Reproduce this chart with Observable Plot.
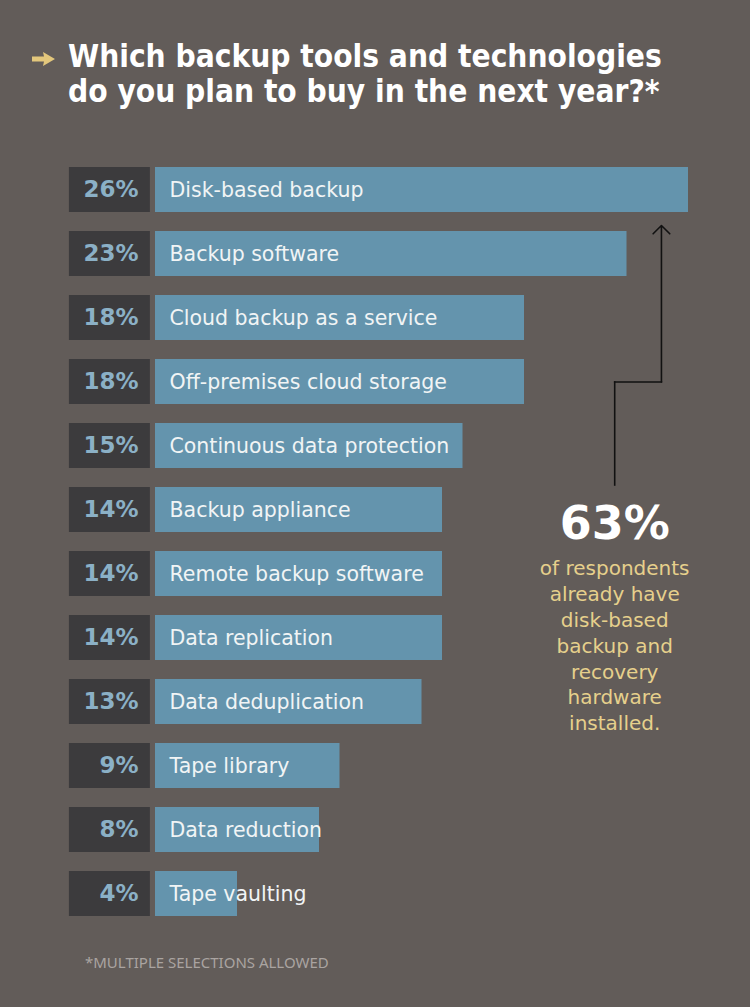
<!DOCTYPE html>
<html><head><meta charset="utf-8">
<script src="https://cdn.jsdelivr.net/npm/d3@7"></script>
<script src="https://cdn.jsdelivr.net/npm/@observablehq/plot@0.6"></script>
<style>
html,body{margin:0;padding:0;background:#625c59;}
body{width:750px;height:1007px;overflow:hidden;}
#title{position:relative;height:140px;box-sizing:border-box;padding:39px 0 0 68px;margin:0;}
#title .t{display:block;font-family:"DejaVu Sans Condensed","DejaVu Sans",sans-serif;font-weight:bold;font-size:32px;line-height:35px;color:#fff;transform:scaleX(0.98);transform-origin:0 0;white-space:nowrap;}
#title svg.arrow{position:absolute;left:32px;top:52px;}
#chart svg{display:block;}
#foot{padding:22px 0 0 85px;font-family:"Noto Sans",sans-serif;font-size:15px;color:#aaa4a1;line-height:20px;margin:0;}
</style>
</head><body>
<div id="title"><svg class="arrow" width="24" height="14" viewBox="0 0 24 14"><path d="M0 4.5 L12 4.5 L11 0 L23 7 L11 14 L12 9.5 L0 9.5 Z" fill="#e3c77c"/></svg><span class="t">Which backup tools and technologies</span><span class="t">do you plan to buy in the next year?*</span></div>
<div id="chart"></div>
<div id="foot">*MULTIPLE SELECTIONS ALLOWED</div>
<script>
const categories = [
  "Disk-based backup",
  "Backup software",
  "Cloud backup as a service",
  "Off-premises cloud storage",
  "Continuous data protection",
  "Backup appliance",
  "Remote backup software",
  "Data replication",
  "Data deduplication",
  "Tape library",
  "Data reduction",
  "Tape vaulting"
];
const values = [26, 23, 18, 18, 15, 14, 14, 14, 13, 9, 8, 4];
const annotationValue = "63%";
const annotationText = "of respondents\nalready have\ndisk-based\nbackup and\nrecovery\nhardware\ninstalled.";

const data = categories.map((c, i) => ({category: c, value: values[i], label: values[i] + "%"}));

const chart = Plot.plot({
  width: 750,
  height: 790,
  marginTop: 0, marginBottom: 0, marginLeft: 0, marginRight: 0,
  style: {background: "transparent"},
  x: {domain: [0, 26], range: [155, 688], axis: null},
  y: {domain: categories, range: [27, 777], paddingInner: 0.298, paddingOuter: 0, align: 0, axis: null},
  marks: [
    Plot.barX(data, {x1: -4.2, x2: -0.25, y: "category", fill: "#3c3b3d"}),
    Plot.barX(data, {x1: 0, x2: "value", y: "category", fill: "#6494ad"}),
    Plot.text(data, {x: 0, y: "category", text: "label", dx: -17, textAnchor: "end",
      fontFamily: "DejaVu Sans", fontWeight: "bold", fontSize: 23, fill: "#8bb0c6"}),
    Plot.text(data, {x: 0, y: "category", text: "category", dx: 14, textAnchor: "start",
      fontFamily: "DejaVu Sans", fontSize: 20.5, fill: "#f1f4f5"}),
    Plot.arrow([0], {x1: 22.4, y1: () => categories[5], x2: 22.4, y2: () => categories[3],
      insetStart: 25, headLength: 0, stroke: "#111", strokeWidth: 1.6, strokeLinecap: "square"}),
    Plot.arrow([0], {x1: 22.4, y1: () => categories[3], x2: 24.68, y2: () => categories[3],
      headLength: 0, stroke: "#111", strokeWidth: 1.6, strokeLinecap: "square"}),
    Plot.arrow([0], {x1: 24.68, y1: () => categories[3], x2: 24.68, y2: () => categories[0],
      insetEnd: 35.5, headLength: 11, headAngle: 90, stroke: "#111", strokeWidth: 1.6}),
    Plot.text([annotationValue], {x: 22.4, y: () => categories[5], text: d => d, dy: 14,
      fontFamily: "DejaVu Sans", fontWeight: "bold", fontSize: 46, fill: "#ffffff"}),
    Plot.text([annotationText], {x: 22.4, y: () => categories[5], text: d => d, dy: 47,
      lineAnchor: "top", lineHeight: 1.29, textAnchor: "middle",
      fontFamily: "DejaVu Sans", fontSize: 20, fill: "#e6d08c"})
  ]
});
document.getElementById("chart").appendChild(chart);
</script>
</body></html>
